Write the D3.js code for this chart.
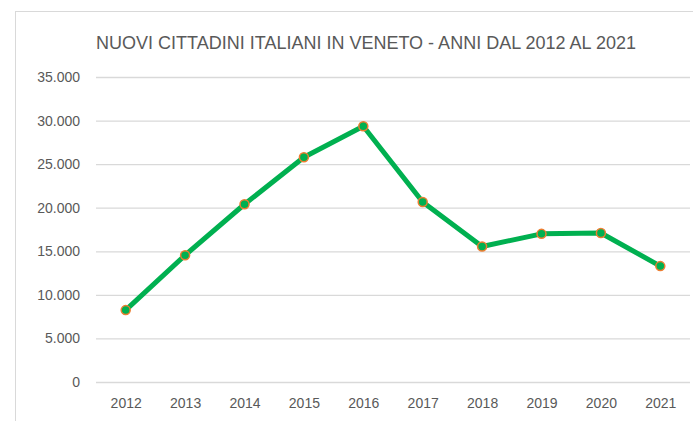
<!DOCTYPE html>
<html>
<head>
<meta charset="utf-8">
<script src="https://cdn.jsdelivr.net/npm/d3@7"></script>
<style>
  html, body { margin: 0; padding: 0; background: #fff; }
  svg { display: block; }
</style>
</head>
<body>
<svg id="chart" width="693" height="421"></svg>
<script>
const titleText = "NUOVI CITTADINI ITALIANI IN VENETO - ANNI DAL 2012 AL 2021";
const years = ["2012", "2013", "2014", "2015", "2016", "2017", "2018", "2019", "2020", "2021"];
const newCitizens = [8250, 14550, 20400, 25800, 29350, 20650, 15550, 17000, 17100, 13300];
const yTicks = [0, 5000, 10000, 15000, 20000, 25000, 30000, 35000];

const W = 693, H = 421;
const margin = { left: 96, right: 3, top: 77, bottom: 39 };
const font = "'Liberation Sans', Arial, sans-serif";
const textColor = "#595959";

const svg = d3.select("#chart");

// chart frame (extends past the right and bottom edges)
svg.append("rect")
  .attr("x", 15.5).attr("y", 11.5)
  .attr("width", W + 20).attr("height", H + 20)
  .attr("fill", "#fff").attr("stroke", "#d9d9d9").attr("stroke-width", 1);

const x = d3.scalePoint()
  .domain(years)
  .range([margin.left, W - margin.right])
  .padding(0.5);

const y = d3.scaleLinear()
  .domain([0, 35000])
  .range([H - margin.bottom, margin.top]);

const fmt = v => d3.format(",")(v).replace(/,/g, ".");

// horizontal gridlines with value labels
const yAxis = d3.axisLeft(y)
  .tickValues(yTicks)
  .tickSize(-(W - margin.right - margin.left))
  .tickPadding(16)
  .tickFormat(fmt);

const gy = svg.append("g")
  .attr("transform", `translate(${margin.left},0)`)
  .call(yAxis);
gy.select(".domain").remove();
gy.selectAll(".tick line").attr("stroke", "#d9d9d9").attr("stroke-width", 1.3);
gy.selectAll(".tick text")
  .attr("fill", textColor)
  .style("font-family", font)
  .style("font-size", "14px");

// category labels
const xAxis = d3.axisBottom(x).tickSize(0).tickPadding(16);
const gx = svg.append("g")
  .attr("transform", `translate(0,${H - margin.bottom})`)
  .call(xAxis);
gx.select(".domain").remove();
gx.selectAll(".tick text")
  .attr("fill", textColor)
  .style("font-family", font)
  .style("font-size", "14px");

// title
svg.append("text")
  .attr("x", 366).attr("y", 49)
  .attr("text-anchor", "middle")
  .attr("fill", textColor)
  .style("font-family", font)
  .style("font-size", "18px")
  .text(titleText);

// series line
const line = d3.line()
  .x((d, i) => x(years[i]))
  .y(d => y(d));

svg.append("path")
  .datum(newCitizens)
  .attr("d", line)
  .attr("fill", "none")
  .attr("stroke", "#00b050")
  .attr("stroke-width", 5)
  .attr("stroke-linejoin", "round")
  .attr("stroke-linecap", "round");

// markers
svg.append("g")
  .selectAll("circle")
  .data(newCitizens)
  .join("circle")
  .attr("cx", (d, i) => x(years[i]))
  .attr("cy", d => y(d))
  .attr("r", 4.5)
  .attr("fill", "#00b050")
  .attr("stroke", "#ed7d31")
  .attr("stroke-width", 1.5);
</script>
</body>
</html>
